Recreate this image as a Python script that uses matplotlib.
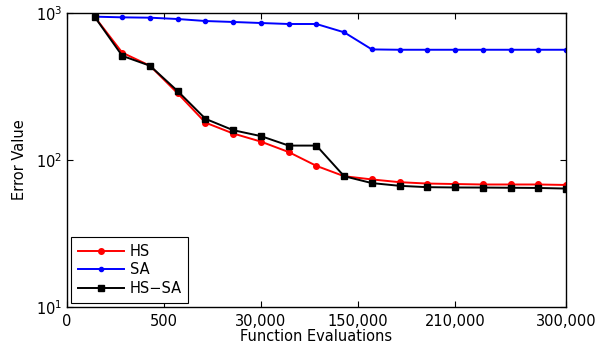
import numpy as np
import matplotlib
matplotlib.use("Agg")
import matplotlib.pyplot as plt
from matplotlib.ticker import NullLocator

plt.rcParams['font.family'] = ['DejaVu Sans']
plt.rcParams['mathtext.default'] = 'regular'

# data, x is the sample index 1..18
x = np.arange(1, 19)
hs = [940, 535, 436, 283, 179, 151, 133, 113, 91, 77.4,
      73.6, 70.5, 69, 68.5, 68, 68, 68, 67.5]
sa = [940, 930, 925, 906, 878, 865, 851, 838, 838, 736,
      563, 560, 560, 560, 560, 560, 560, 560]
hssa = [940, 509, 436, 293, 190, 159, 145, 125, 125, 77.4,
        69.5, 66.6, 65.2, 64.9, 64.8, 64.6, 64.4, 63.8]

xtick_pos = [0, 3.5, 7, 10.5, 14, 18]
xtick_labels = ['0', '500', '30,000', '150,000', '210,000', '300,000']

fig = plt.figure(figsize=(5.98, 3.51), dpi=100)
ax = fig.add_axes([0.1117, 0.1254, 0.8348, 0.8384])

ax.plot(x, hs, color='red', lw=1.4, marker='o', ms=4, label='HS')
ax.plot(x, sa, color='blue', lw=1.4, marker='.', ms=6, label='SA')
ax.plot(x, hssa, color='black', lw=1.4, marker='s', ms=4, label='HS\u2212SA')

ax.set_yscale('log')
ax.set_ylim(10, 1000)
ax.set_xlim(0, 18)
ax.set_xticks(xtick_pos)
ax.set_xticklabels(xtick_labels)
ax.yaxis.set_minor_locator(NullLocator())
ax.tick_params(direction='in', top=True, right=True, labelsize=10.5, length=4)
ax.tick_params(axis='x', pad=5)
for s in ax.spines.values():
    s.set_linewidth(1.0)

ax.set_xlabel('Function Evaluations', fontsize=10.5, labelpad=0)
ax.set_ylabel('Error Value', fontsize=10.5, labelpad=6)

leg = ax.legend(loc='lower left', fontsize=10.5, handlelength=3.2,
                handletextpad=0.35, fancybox=False, framealpha=1,
                edgecolor='black', borderaxespad=0.3, borderpad=0.45,
                labelspacing=0.25)
leg.get_frame().set_linewidth(0.8)

fig.savefig('out.png', dpi=100)
